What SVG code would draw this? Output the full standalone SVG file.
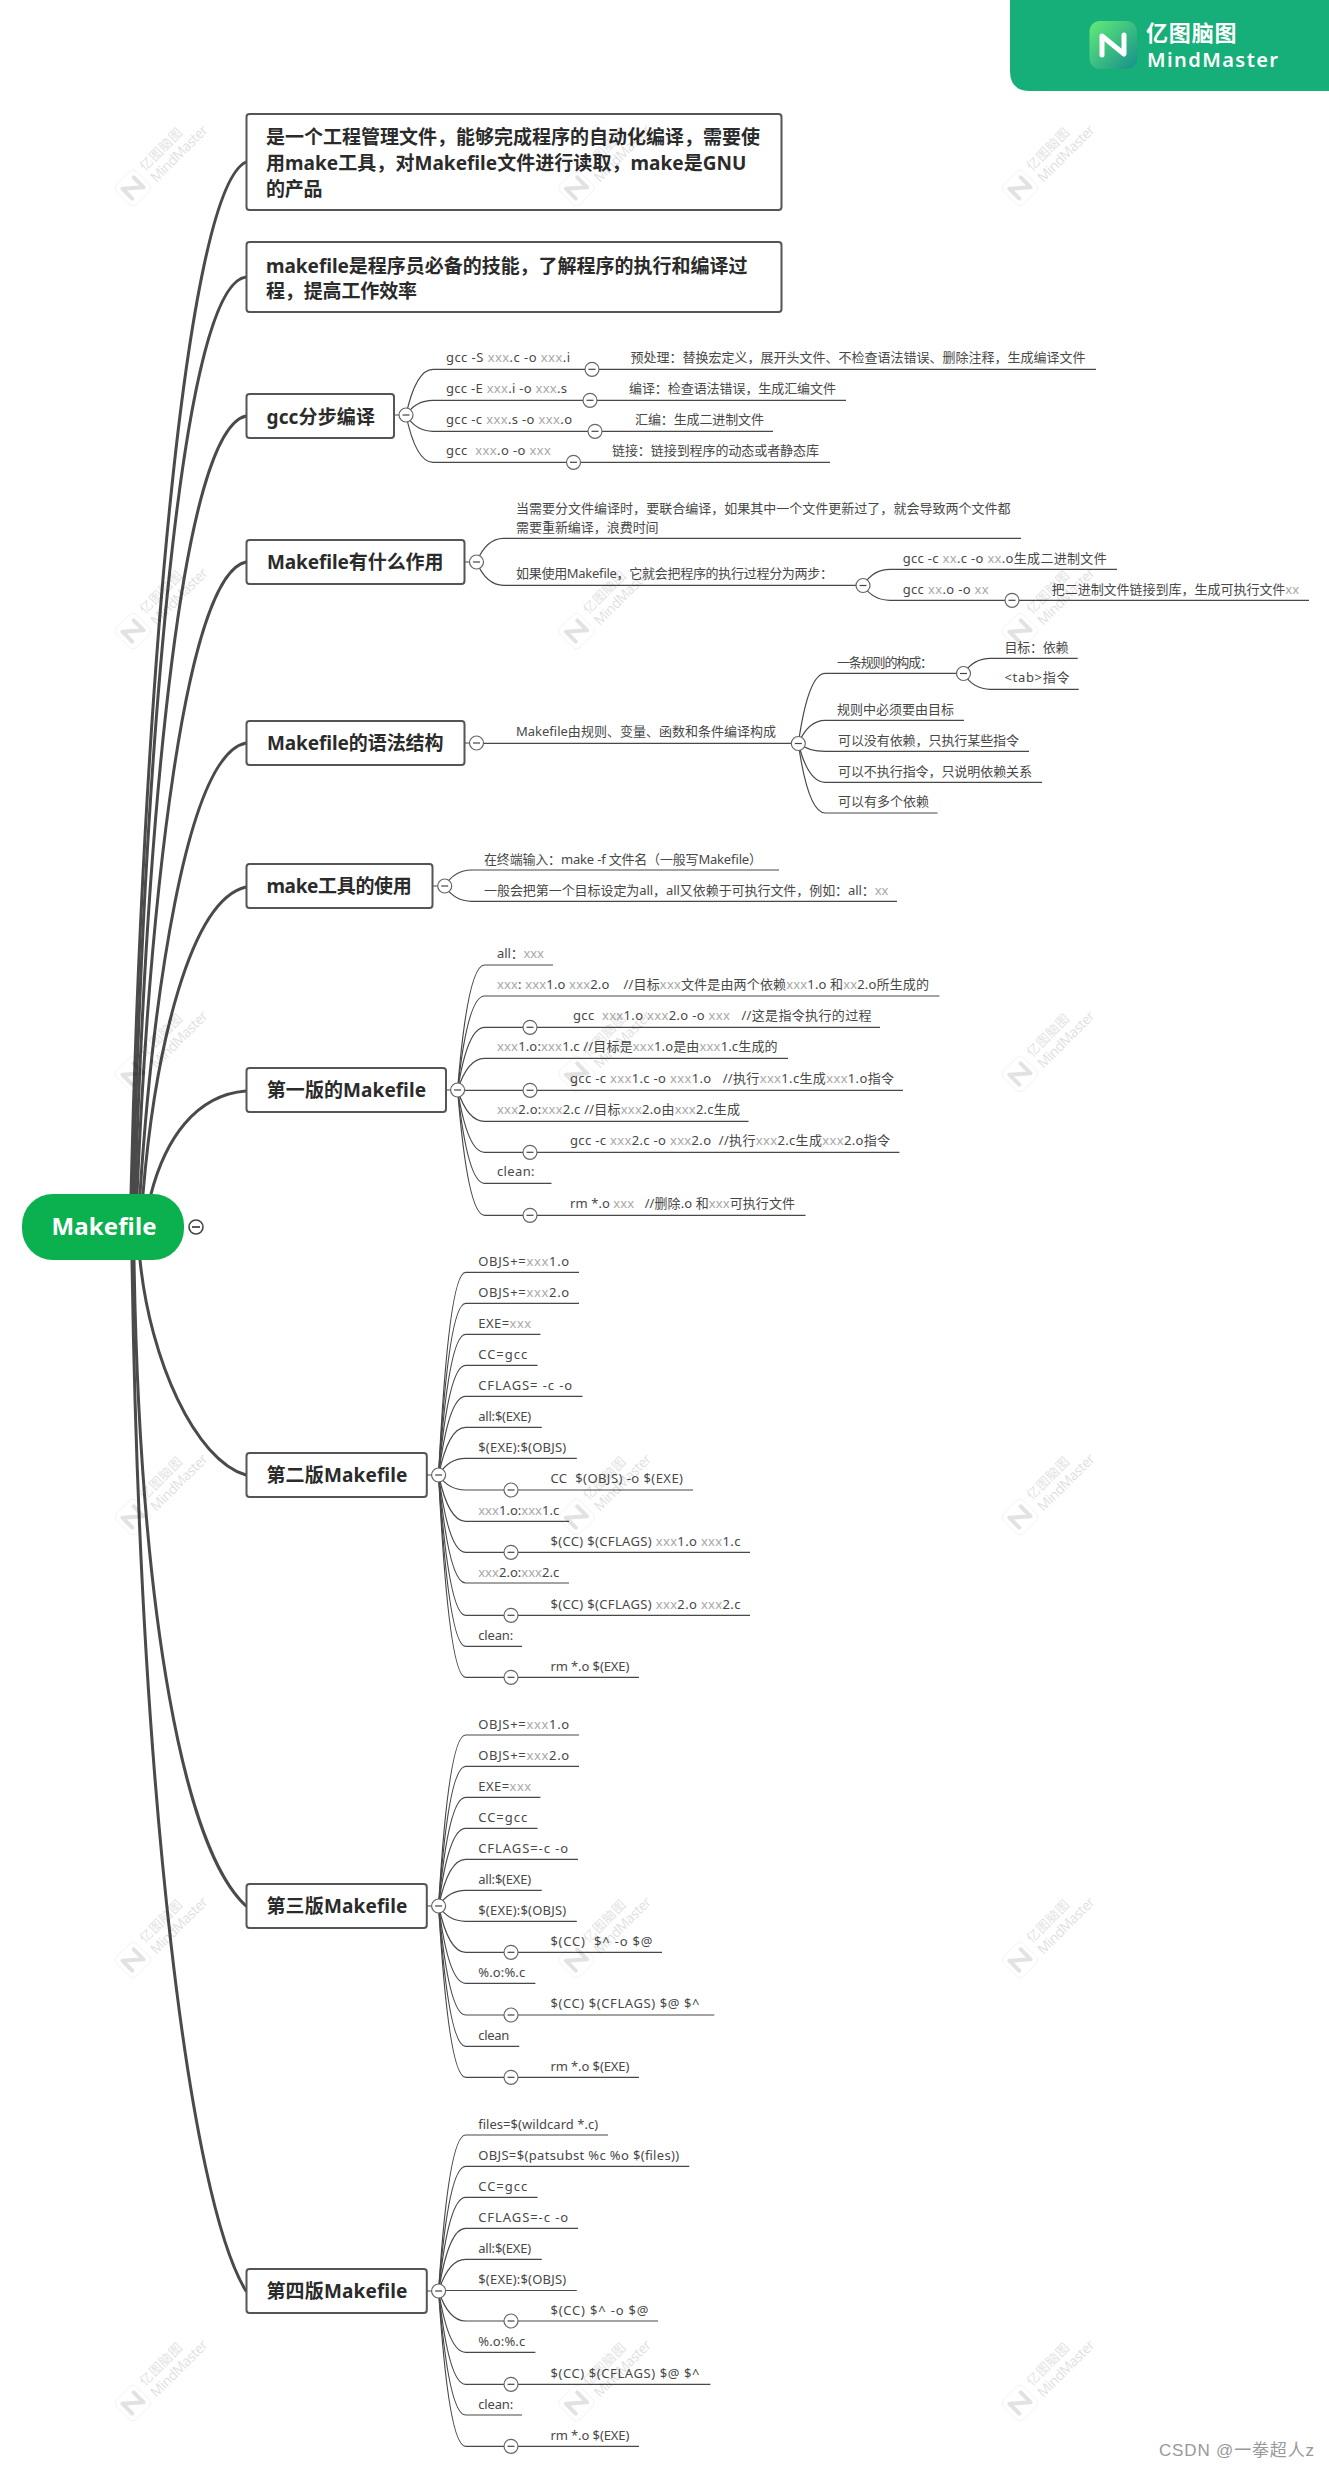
<svg xmlns="http://www.w3.org/2000/svg" width="1329" height="2468" viewBox="0 0 1329 2468">
<style>
text{font-family:"Noto Sans","Noto Sans CJK SC",sans-serif;white-space:pre}
.t{font-size:13px;fill:#484848}
.x{fill:#a8a8a8}
.b{font-size:19px;font-weight:700;fill:#2b2b2b}
.box{fill:#fff;stroke:#555;stroke-width:2}
.c1{fill:none;stroke:#4a4a4a;stroke-width:3;stroke-linecap:round}
.c2{fill:none;stroke:#484848;stroke-width:1.2}
.wm text{fill:#000}
</style>
<defs>
<g id="c"><circle r="7" fill="#fff" stroke="#666" stroke-width="1.2"/><path d="M-3.5 0H3.5" stroke="#444" stroke-width="1.2"/></g>
<g id="w" opacity=".12">
<rect x="-14" y="-14" width="28" height="28" rx="5" fill="none" stroke="#000" stroke-width=".6" opacity=".6"/>
<path d="M-8 7V-7L8 7V-7" fill="none" stroke="#000" stroke-width="4" stroke-linejoin="round" stroke-linecap="round" opacity=".9"/>
<text x="20" y="-3" font-size="13" textLength="54">亿图脑图</text>
<text x="20" y="13" font-size="14" textLength="74">MindMaster</text>
</g>
<linearGradient id="lg" x1="0" y1="0" x2="1" y2="1"><stop offset="0" stop-color="#62ec78"/><stop offset="1" stop-color="#168f8c"/></linearGradient>
</defs>
<rect width="1329" height="2468" fill="#fff"/>
<g id="connectors">
<g class="c1">
<path d="M131 1194C143 700 185 190 246 162"/>
<path d="M133 1194C145 760 180 285 246 277"/>
<path d="M135 1194C148 800 183 430 246 416"/>
<path d="M137 1194C150 900 185 575 246 562"/>
<path d="M140 1194C152 1010 185 755 246 743"/>
<path d="M143 1194C155 1050 190 900 246 887"/>
<path d="M151 1194C165 1140 195 1095 246 1091"/>
<path d="M140 1260C150 1360 195 1460 246 1475"/>
<path d="M134 1260C140 1620 185 1850 246 1906"/>
<path d="M132 1260C140 1800 190 2200 246 2291"/>
</g>
<g class="c2">
<path d="M406 415Q416 369.3 433 369.3H1096"/>
<path d="M406 415Q416 400.3 433 400.3H846"/>
<path d="M406 415Q416 431.3 433 431.3H773"/>
<path d="M406 415Q416 462.3 433 462.3H830"/>
<path d="M476.5 562Q486.500 538.3 503.500 538.3H1021"/>
<path d="M476.5 562Q486.500 585.3 503.500 585.3H863"/>
<path d="M863 585.500Q873 569.3 890 569.3H1117"/>
<path d="M863 585.500Q873 600.3 890 600.3H1309"/>
<path d="M476.5 743.300H791"/>
<path d="M798.300 743.500Q808.300 673.300 825.300 673.300H963.500"/>
<path d="M963.500 673.500Q973.500 658.300 990.500 658.300H1077.700"/>
<path d="M963.500 673.500Q973.500 689.300 990.500 689.300H1078.700"/>
<path d="M798.300 743.500Q808.300 720.300 825.300 720.300H964"/>
<path d="M798.300 743.500Q808.300 751.300 825.300 751.300H1029"/>
<path d="M798.300 743.500Q808.300 782.300 825.300 782.300H1042"/>
<path d="M798.300 743.500Q808.300 813 825.300 813H937.500"/>
<path d="M444.700 886Q454.700 870 471.700 870H779"/>
<path d="M444.700 886Q454.700 901.300 471.700 901.300H897"/>
<path d="M457.600 1090Q467.600 965 484.600 965H553"/>
<path d="M457.600 1090Q467.600 996 484.600 996H939.400"/>
<path d="M457.600 1090Q467.600 1027.300 484.600 1027.300H880"/>
<path d="M457.600 1090Q467.600 1058.300 484.600 1058.300H788"/>
<path d="M457.600 1090.300H903"/>
<path d="M457.600 1090Q467.600 1121.300 484.600 1121.300H748.500"/>
<path d="M457.600 1090Q467.600 1152.300 484.600 1152.300H899.400"/>
<path d="M457.600 1090Q467.600 1183.300 484.600 1183.300H551.500"/>
<path d="M457.600 1090Q467.600 1215.300 484.600 1215.300H805.500"/>
<path d="M438.600 1475Q448.600 1272.300 465.600 1272.300H579"/>
<path d="M438.600 1475Q448.600 1303.300 465.600 1303.300H579"/>
<path d="M438.600 1475Q448.600 1334.300 465.600 1334.300H540.400"/>
<path d="M438.600 1475Q448.600 1365.300 465.600 1365.300H537.500"/>
<path d="M438.600 1475Q448.600 1396.300 465.600 1396.300H582.500"/>
<path d="M438.600 1475Q448.600 1427.300 465.600 1427.300H541.800"/>
<path d="M438.600 1475Q448.600 1458.300 465.600 1458.300H576.800"/>
<path d="M438.600 1475Q448.600 1490 465.600 1490H693"/>
<path d="M438.600 1475Q448.600 1521.300 465.600 1521.300H569"/>
<path d="M438.600 1475Q448.600 1552.300 465.600 1552.300H750"/>
<path d="M438.600 1475Q448.600 1583 465.600 1583H569"/>
<path d="M438.600 1475Q448.600 1615.300 465.600 1615.300H750"/>
<path d="M438.600 1475Q448.600 1646.300 465.600 1646.300H522"/>
<path d="M438.600 1475Q448.600 1677.300 465.600 1677.300H639"/>
<path d="M438.600 1906Q448.600 1735 465.600 1735H579"/>
<path d="M438.600 1906Q448.600 1766.300 465.600 1766.300H579"/>
<path d="M438.600 1906Q448.600 1797.300 465.600 1797.300H540.400"/>
<path d="M438.600 1906Q448.600 1828.300 465.600 1828.300H537.500"/>
<path d="M438.600 1906Q448.600 1859.300 465.600 1859.300H578"/>
<path d="M438.600 1906Q448.600 1890.300 465.600 1890.300H541.800"/>
<path d="M438.600 1906Q448.600 1921.300 465.600 1921.300H576.800"/>
<path d="M438.600 1906Q448.600 1952.300 465.600 1952.300H662"/>
<path d="M438.600 1906Q448.600 1983.300 465.600 1983.300H535.400"/>
<path d="M438.600 1906Q448.600 2015 465.600 2015H714.300"/>
<path d="M438.600 1906Q448.600 2046.300 465.600 2046.300H519.300"/>
<path d="M438.600 1906Q448.600 2077.300 465.600 2077.300H639"/>
<path d="M438.600 2291Q448.600 2135 465.600 2135H608"/>
<path d="M438.600 2291Q448.600 2166.300 465.600 2166.300H689.300"/>
<path d="M438.600 2291Q448.600 2197.300 465.600 2197.300H537.500"/>
<path d="M438.600 2291Q448.600 2228.300 465.600 2228.300H578"/>
<path d="M438.600 2291Q448.600 2259.300 465.600 2259.300H541.800"/>
<path d="M438.600 2290.500H576.800"/>
<path d="M438.600 2291Q448.600 2321 465.600 2321H658"/>
<path d="M438.600 2291Q448.600 2352.300 465.600 2352.300H535.400"/>
<path d="M438.600 2291Q448.600 2384.300 465.600 2384.300H710.400"/>
<path d="M438.600 2291Q448.600 2415 465.600 2415H522"/>
<path d="M438.600 2291Q448.600 2446.300 465.600 2446.300H639"/>
</g>
<g class="c2">
<path d="M394 415H399M464.600 562H470M464.600 743H470M432.400 886H438M446 1090H451M426.800 1475H432M426.800 1906H432M426.800 2291H432"/>
</g>
</g>
<g id="root"><rect x="22" y="1194" width="162" height="66" rx="31" fill="#0bb04f"/><text x="51.500" y="1235" font-size="24" font-weight="700" fill="#fff" textLength="105">Makefile</text><circle cx="196" cy="1227" r="7" fill="#fff" stroke="#444" stroke-width="1.6"/><path d="M192 1227H200" stroke="#333" stroke-width="1.6"/></g>
<g id="topic1"><rect class="box" x="246.500" y="114" width="535" height="96" rx="3"/><text class="b" x="266" y="144" textLength="494">是一个工程管理文件，能够完成程序的自动化编译，需要使</text><text class="b" x="266" y="170" textLength="480.400">用make工具，对Makefile文件进行读取，make是GNU</text><text class="b" x="266" y="196" textLength="56.400">的产品</text></g>
<g id="topic2"><rect class="box" x="246.500" y="242" width="535" height="70" rx="3"/><text class="b" x="266" y="272.500" textLength="481.400">makefile是程序员必备的技能，了解程序的执行和编译过</text><text class="b" x="266" y="298" textLength="151">程，提高工作效率</text></g>
<g id="gcc"><rect class="box" x="246.500" y="394" width="147.500" height="44" rx="3"/><text class="b" x="266.500" y="424" textLength="108.500">gcc分步编译</text><use href="#c" x="406" y="415"/></g>
<g id="g1"><text class="t" x="446" y="362" textLength="124">gcc -S <tspan class="x">xxx</tspan>.c -o <tspan class="x">xxx</tspan>.i</text><use href="#c" x="592" y="369.300"/></g>
<g id="g1a"><text class="t" x="630.600" y="362" textLength="455">预处理：替换宏定义，展开头文件、不检查语法错误、删除注释，生成编译文件</text></g>
<g id="g2"><text class="t" x="446" y="393" textLength="121">gcc -E <tspan class="x">xxx</tspan>.i -o <tspan class="x">xxx</tspan>.s</text><use href="#c" x="590" y="400.300"/></g>
<g id="g2a"><text class="t" x="629" y="393" textLength="207">编译：检查语法错误，生成汇编文件</text></g>
<g id="g3"><text class="t" x="446" y="424" textLength="126">gcc -c <tspan class="x">xxx</tspan>.s -o <tspan class="x">xxx</tspan>.o</text><use href="#c" x="595" y="431.300"/></g>
<g id="g3a"><text class="t" x="635" y="424" textLength="129">汇编：生成二进制文件</text></g>
<g id="g4"><text class="t" x="446" y="455" textLength="105">gcc  <tspan class="x">xxx</tspan>.o -o <tspan class="x">xxx</tspan></text><use href="#c" x="573.500" y="462.300"/></g>
<g id="g4a"><text class="t" x="612" y="455" textLength="207">链接：链接到程序的动态或者静态库</text></g>
<g id="role"><rect class="box" x="246.500" y="540" width="218" height="44" rx="3"/><text class="b" x="267" y="569" textLength="176.500">Makefile有什么作用</text><use href="#c" x="476.500" y="562"/></g>
<g id="r1"><text class="t" x="516" y="513" textLength="494.500">当需要分文件编译时，要联合编译，如果其中一个文件更新过了，就会导致两个文件都</text><text class="t" x="516" y="532" textLength="142.600">需要重新编译，浪费时间</text></g>
<g id="r2"><text class="t" x="516" y="578" textLength="317">如果使用Makefile，它就会把程序的执行过程分为两步：</text><use href="#c" x="863" y="585.500"/></g>
<g id="r2a"><text class="t" x="902.700" y="563" textLength="204">gcc -c <tspan class="x">xx</tspan>.c -o <tspan class="x">xx</tspan>.o生成二进制文件</text></g>
<g id="r2b"><text class="t" x="902.700" y="594" textLength="86">gcc <tspan class="x">xx</tspan>.o -o <tspan class="x">xx</tspan></text><use href="#c" x="1012" y="600.300"/></g>
<g id="r2c"><text class="t" x="1051.700" y="594" textLength="247.400">把二进制文件链接到库，生成可执行文件<tspan class="x">xx</tspan></text></g>
<g id="syntax"><rect class="box" x="246.500" y="721" width="218" height="44" rx="3"/><text class="b" x="267" y="750" textLength="176.500">Makefile的语法结构</text><use href="#c" x="476.500" y="743"/></g>
<g id="s0"><text class="t" x="516" y="736" textLength="260">Makefile由规则、变量、函数和条件编译构成</text><use href="#c" x="798.300" y="743.500"/></g>
<g id="s1"><text class="t" x="837" y="667" textLength="96">一条规则的构成：</text><use href="#c" x="963.500" y="673.500"/></g>
<g id="s1a"><text class="t" x="1004.400" y="652" textLength="64">目标：依赖</text></g>
<g id="s1b"><text class="t" x="1004.400" y="682" textLength="65">&lt;tab&gt;指令</text></g>
<g id="s2"><text class="t" x="837" y="713.500" textLength="117">规则中必须要由目标</text></g>
<g id="s3"><text class="t" x="838" y="744.500" textLength="181">可以没有依赖，只执行某些指令</text></g>
<g id="s4"><text class="t" x="838" y="775.500" textLength="194">可以不执行指令，只说明依赖关系</text></g>
<g id="s5"><text class="t" x="838" y="806" textLength="91">可以有多个依赖</text></g>
<g id="make"><rect class="box" x="246.500" y="864" width="186" height="44" rx="3"/><text class="b" x="266.400" y="893" textLength="145.400">make工具的使用</text><use href="#c" x="444.700" y="886"/></g>
<g id="m1"><text class="t" x="484" y="864" textLength="278">在终端输入：make -f 文件名（一般写Makefile）</text></g>
<g id="m2"><text class="t" x="484" y="895" textLength="404.500">一般会把第一个目标设定为all，all又依赖于可执行文件，例如：all：<tspan class="x">xx</tspan></text></g>
<g id="v1"><rect class="box" x="246.500" y="1068" width="199.500" height="44" rx="3"/><text class="b" x="266.700" y="1097" textLength="159.300">第一版的Makefile</text><use href="#c" x="457.600" y="1090"/></g>
<g id="a1"><text class="t" x="497" y="958" textLength="47">all：<tspan class="x">xxx</tspan></text></g>
<g id="a2"><text class="t" x="497" y="989" textLength="432"><tspan class="x">xxx</tspan>: <tspan class="x">xxx</tspan>1.o <tspan class="x">xxx</tspan>2.o    //目标<tspan class="x">xxx</tspan>文件是由两个依赖<tspan class="x">xxx</tspan>1.o 和<tspan class="x">xx</tspan>2.o所生成的</text></g>
<g id="a3"><text class="t" x="573" y="1020" textLength="298.500">gcc  <tspan class="x">xxx</tspan>1.o <tspan class="x">xxx</tspan>2.o -o <tspan class="x">xxx</tspan>   //这是指令执行的过程</text><use href="#c" x="530" y="1027.300"/></g>
<g id="a4"><text class="t" x="497" y="1051" textLength="280.600"><tspan class="x">xxx</tspan>1.o:<tspan class="x">xxx</tspan>1.c //目标是<tspan class="x">xxx</tspan>1.o是由<tspan class="x">xxx</tspan>1.c生成的</text></g>
<g id="a5"><text class="t" x="570" y="1083" textLength="324">gcc -c <tspan class="x">xxx</tspan>1.c -o <tspan class="x">xxx</tspan>1.o   //执行<tspan class="x">xxx</tspan>1.c生成<tspan class="x">xxx</tspan>1.o指令</text><use href="#c" x="530" y="1090.300"/></g>
<g id="a6"><text class="t" x="497" y="1114" textLength="243"><tspan class="x">xxx</tspan>2.o:<tspan class="x">xxx</tspan>2.c //目标<tspan class="x">xxx</tspan>2.o由<tspan class="x">xxx</tspan>2.c生成</text></g>
<g id="a7"><text class="t" x="570" y="1145" textLength="320">gcc -c <tspan class="x">xxx</tspan>2.c -o <tspan class="x">xxx</tspan>2.o  //执行<tspan class="x">xxx</tspan>2.c生成<tspan class="x">xxx</tspan>2.o指令</text><use href="#c" x="530" y="1152.300"/></g>
<g id="a8"><text class="t" x="497" y="1176" textLength="37.500">clean:</text></g>
<g id="a9"><text class="t" x="570" y="1208" textLength="225">rm *.o <tspan class="x">xxx</tspan>   //删除.o 和<tspan class="x">xxx</tspan>可执行文件</text><use href="#c" x="530" y="1215.300"/></g>
<g id="v2"><rect class="box" x="246.500" y="1453" width="180.300" height="44" rx="3"/><text class="b" x="266.400" y="1482" textLength="141">第二版Makefile</text><use href="#c" x="438.600" y="1475"/></g>
<g id="b1"><text class="t" x="478.200" y="1266" textLength="91">OBJS+=<tspan class="x">xxx</tspan>1.o</text></g>
<g id="b2"><text class="t" x="478.200" y="1297" textLength="91">OBJS+=<tspan class="x">xxx</tspan>2.o</text></g>
<g id="b3"><text class="t" x="478.200" y="1328" textLength="53">EXE=<tspan class="x">xxx</tspan></text></g>
<g id="b4"><text class="t" x="478.200" y="1359" textLength="49">CC=gcc</text></g>
<g id="b5"><text class="t" x="478.200" y="1390" textLength="94">CFLAGS= -c -o</text></g>
<g id="b6"><text class="t" x="478.200" y="1421" textLength="53">all:$(EXE)</text></g>
<g id="b7"><text class="t" x="478.200" y="1452" textLength="88">$(EXE):$(OBJS)</text></g>
<g id="b8"><text class="t" x="550.400" y="1483" textLength="132.600">CC  $(OBJS) -o $(EXE)</text><use href="#c" x="511" y="1490"/></g>
<g id="b9"><text class="t" x="478.200" y="1514.500" textLength="81"><tspan class="x">xxx</tspan>1.o:<tspan class="x">xxx</tspan>1.c</text></g>
<g id="b10"><text class="t" x="550.400" y="1545.500" textLength="190">$(CC) $(CFLAGS) <tspan class="x">xxx</tspan>1.o <tspan class="x">xxx</tspan>1.c</text><use href="#c" x="511" y="1552.300"/></g>
<g id="b11"><text class="t" x="478.200" y="1576.500" textLength="81"><tspan class="x">xxx</tspan>2.o:<tspan class="x">xxx</tspan>2.c</text></g>
<g id="b12"><text class="t" x="550.400" y="1608.500" textLength="190">$(CC) $(CFLAGS) <tspan class="x">xxx</tspan>2.o <tspan class="x">xxx</tspan>2.c</text><use href="#c" x="511" y="1615.300"/></g>
<g id="b13"><text class="t" x="478.200" y="1640" textLength="35">clean:</text></g>
<g id="b14"><text class="t" x="550.400" y="1671" textLength="79">rm *.o $(EXE)</text><use href="#c" x="511" y="1677.300"/></g>
<g id="v3"><rect class="box" x="246.500" y="1884" width="180.300" height="44" rx="3"/><text class="b" x="266.400" y="1913" textLength="141">第三版Makefile</text><use href="#c" x="438.600" y="1906"/></g>
<g id="c1"><text class="t" x="478.200" y="1728.500" textLength="91">OBJS+=<tspan class="x">xxx</tspan>1.o</text></g>
<g id="c2"><text class="t" x="478.200" y="1760" textLength="91">OBJS+=<tspan class="x">xxx</tspan>2.o</text></g>
<g id="c3"><text class="t" x="478.200" y="1791" textLength="53">EXE=<tspan class="x">xxx</tspan></text></g>
<g id="c4"><text class="t" x="478.200" y="1822" textLength="49">CC=gcc</text></g>
<g id="c5"><text class="t" x="478.200" y="1853" textLength="90">CFLAGS=-c -o</text></g>
<g id="c6"><text class="t" x="478.200" y="1884" textLength="53">all:$(EXE)</text></g>
<g id="c7"><text class="t" x="478.200" y="1915" textLength="88">$(EXE):$(OBJS)</text></g>
<g id="c8"><text class="t" x="550.400" y="1946" textLength="102">$(CC)  $^ -o $@</text><use href="#c" x="511" y="1952.300"/></g>
<g id="c9"><text class="t" x="478.200" y="1977" textLength="47">%.o:%.c</text></g>
<g id="c10"><text class="t" x="550.400" y="2008" textLength="149">$(CC) $(CFLAGS) $@ $^</text><use href="#c" x="511" y="2015"/></g>
<g id="c11"><text class="t" x="478.200" y="2040" textLength="31">clean</text></g>
<g id="c12"><text class="t" x="550.400" y="2071" textLength="79">rm *.o $(EXE)</text><use href="#c" x="511" y="2077.300"/></g>
<g id="v4"><rect class="box" x="246.500" y="2269" width="180.300" height="44" rx="3"/><text class="b" x="266.400" y="2298" textLength="141">第四版Makefile</text><use href="#c" x="438.600" y="2291"/></g>
<g id="d1"><text class="t" x="478.200" y="2128.500" textLength="120">files=$(wildcard *.c)</text></g>
<g id="d2"><text class="t" x="478.200" y="2160" textLength="201">OBJS=$(patsubst %c %o $(files))</text></g>
<g id="d3"><text class="t" x="478.200" y="2191" textLength="49">CC=gcc</text></g>
<g id="d4"><text class="t" x="478.200" y="2222" textLength="90">CFLAGS=-c -o</text></g>
<g id="d5"><text class="t" x="478.200" y="2253" textLength="53">all:$(EXE)</text></g>
<g id="d6"><text class="t" x="478.200" y="2284" textLength="88">$(EXE):$(OBJS)</text></g>
<g id="d7"><text class="t" x="550.400" y="2315" textLength="98">$(CC) $^ -o $@</text><use href="#c" x="511" y="2321"/></g>
<g id="d8"><text class="t" x="478.200" y="2346" textLength="47">%.o:%.c</text></g>
<g id="d9"><text class="t" x="550.400" y="2377.500" textLength="149">$(CC) $(CFLAGS) $@ $^</text><use href="#c" x="511" y="2384.300"/></g>
<g id="d10"><text class="t" x="478.200" y="2408.500" textLength="35">clean:</text></g>
<g id="d11"><text class="t" x="550.400" y="2440" textLength="79">rm *.o $(EXE)</text><use href="#c" x="511" y="2446.300"/></g>
<g id="badge">
<path d="M1010 0H1329V91H1030Q1010 91 1010 71Z" fill="#16ae79"/>
<rect x="1089.500" y="21" width="47.500" height="48" rx="10" fill="url(#lg)"/>
<path d="M1102 55V36L1124 54V35" fill="none" stroke="#fff" stroke-width="5" stroke-linejoin="round" stroke-linecap="round"/>
<text x="1146" y="41" font-size="22" font-weight="700" fill="#fff" textLength="90.500">亿图脑图</text>
<text x="1147" y="67" font-size="20" font-weight="600" fill="#fff" textLength="131">MindMaster</text>
</g>
<g id="watermarks">
<use href="#w" transform="translate(133 188) rotate(-45)"/><use href="#w" transform="translate(576.500 188) rotate(-45)"/><use href="#w" transform="translate(1020 188) rotate(-45)"/>
<use href="#w" transform="translate(133 631) rotate(-45)"/><use href="#w" transform="translate(576.500 631) rotate(-45)"/><use href="#w" transform="translate(1020 631) rotate(-45)"/>
<use href="#w" transform="translate(133 1074) rotate(-45)"/><use href="#w" transform="translate(576.500 1074) rotate(-45)"/><use href="#w" transform="translate(1020 1074) rotate(-45)"/>
<use href="#w" transform="translate(133 1517) rotate(-45)"/><use href="#w" transform="translate(576.500 1517) rotate(-45)"/><use href="#w" transform="translate(1020 1517) rotate(-45)"/>
<use href="#w" transform="translate(133 1960) rotate(-45)"/><use href="#w" transform="translate(576.500 1960) rotate(-45)"/><use href="#w" transform="translate(1020 1960) rotate(-45)"/>
<use href="#w" transform="translate(133 2403) rotate(-45)"/><use href="#w" transform="translate(576.500 2403) rotate(-45)"/><use href="#w" transform="translate(1020 2403) rotate(-45)"/>
</g>
<g id="credit"><text x="1159" y="2456" font-size="17" fill="#999" textLength="155" style='font-family:"Liberation Sans","Noto Sans CJK SC",sans-serif'>CSDN @一拳超人z</text></g>
</svg>
